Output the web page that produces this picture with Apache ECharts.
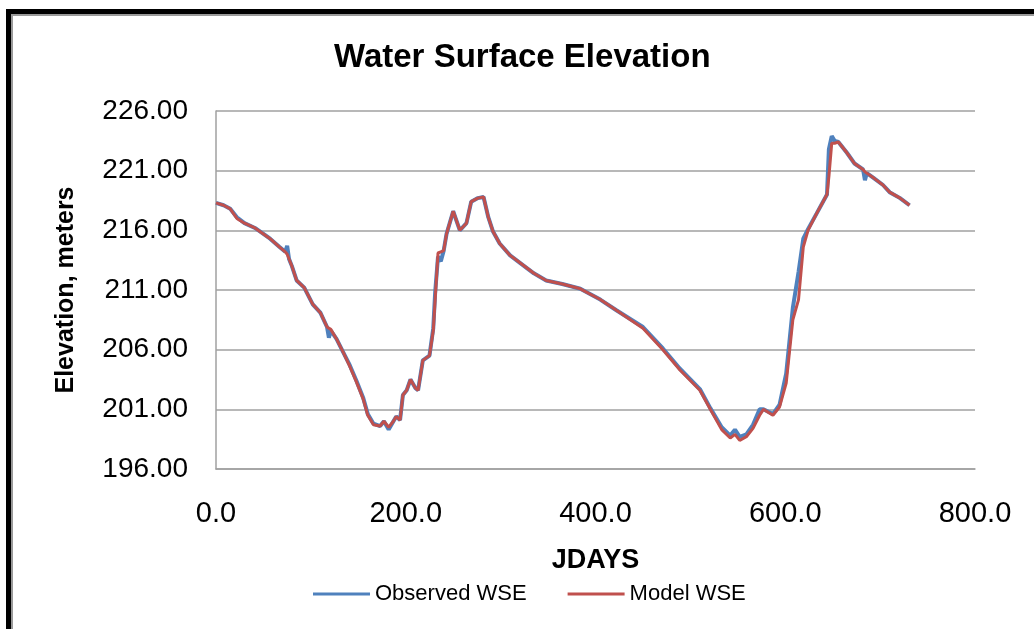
<!DOCTYPE html>
<html>
<head>
<meta charset="utf-8">
<script src="https://cdn.jsdelivr.net/npm/echarts@6/dist/echarts.min.js"></script>
<style>
html,body{margin:0;padding:0;background:#fff;}
#chart{width:1034px;height:629px;}
</style>
</head>
<body>
<div id="chart"></div>
<script>
// ---- data ----
const days = [0, 8, 15, 22, 30, 41, 50, 57, 67, 73, 75, 77, 80, 85, 93, 102, 110, 117, 119, 121, 127, 134, 141, 148, 155, 160, 166, 173, 177, 182, 187, 190, 194, 197, 201, 205, 210, 213, 218, 225, 229, 231, 234, 237, 240, 243, 250, 257, 264, 269, 276, 282, 287, 292, 299, 310, 320, 335, 348, 365, 384, 405, 422, 450, 471, 489, 510, 521, 533, 542, 547, 552, 559, 566, 573, 577, 587, 594, 601, 608, 614, 619, 624, 633, 644, 646, 649, 652, 656, 665, 673, 682, 684, 686, 693, 703, 710, 721, 731];
const modelWSE = [218.3, 218.1, 217.8, 217.0, 216.6, 216.2, 215.7, 215.3, 214.6, 214.2, 214.0, 213.6, 213.0, 211.8, 211.2, 209.8, 209.1, 207.9, 207.8, 207.7, 206.9, 205.8, 204.6, 203.3, 201.9, 200.5, 199.7, 199.6, 200.0, 199.5, 200.0, 200.4, 200.1, 202.2, 202.6, 203.5, 202.8, 202.6, 205.1, 205.5, 207.6, 210.2, 214.1, 214.2, 214.3, 215.7, 217.6, 216.0, 216.6, 218.4, 218.7, 218.8, 217.1, 215.9, 214.9, 213.9, 213.3, 212.4, 211.8, 211.5, 211.1, 210.2, 209.3, 207.8, 206.0, 204.3, 202.6, 201.0, 199.3, 198.6, 198.9, 198.4, 198.7, 199.4, 200.5, 201.0, 200.5, 201.2, 203.2, 208.5, 210.2, 214.6, 216.0, 217.4, 219.0, 220.5, 223.3, 223.3, 223.4, 222.5, 221.6, 221.1, 220.9, 220.8, 220.4, 219.8, 219.2, 218.7, 218.1];
const observedWSE = [218.3, 218.1, 217.8, 217.1, 216.6, 216.2, 215.7, 215.3, 214.6, 214.2, 214.7, 213.6, 213.0, 211.8, 211.2, 209.8, 209.1, 207.9, 207.0, 207.6, 206.9, 205.8, 204.7, 203.4, 202.0, 200.6, 199.8, 199.6, 200.0, 199.3, 200.0, 200.4, 200.1, 202.2, 202.6, 203.5, 202.8, 202.6, 205.1, 205.5, 207.8, 210.8, 213.8, 213.4, 214.3, 215.7, 217.6, 216.0, 216.6, 218.4, 218.7, 218.8, 217.1, 215.9, 214.9, 213.9, 213.3, 212.4, 211.8, 211.5, 211.1, 210.2, 209.3, 207.9, 206.1, 204.4, 202.7, 201.1, 199.5, 198.8, 199.3, 198.7, 198.9, 199.7, 201.0, 201.0, 200.6, 201.4, 204.0, 209.5, 212.5, 215.3, 216.1, 217.4, 219.0, 222.8, 223.9, 223.5, 223.4, 222.5, 221.6, 221.1, 220.2, 220.8, 220.4, 219.8, 219.2, 218.7, 218.1];
const xTicks = [0, 200, 400, 600, 800];
const yTicks = [196, 201, 206, 211, 216, 221, 226];

const obsPairs = days.map((d, i) => [d, observedWSE[i]]);
const modPairs = days.map((d, i) => [d, modelWSE[i]]);

const FONT = '"Liberation Sans", Arial, sans-serif';
const chart = echarts.init(document.getElementById('chart'), null, {renderer: 'canvas'});
chart.setOption({
  animation: false,
  backgroundColor: '#ffffff',
  title: {
    text: 'Water Surface Elevation',
    left: 329, top: 36,
    textStyle: {fontFamily: FONT, fontSize: 33, fontWeight: 'bold', color: '#000'}
  },
  legend: {
    left: 308, top: 578,
    icon: 'rect',
    itemWidth: 57, itemHeight: 3, itemGap: 41,
    textStyle: {fontFamily: FONT, fontSize: 22, color: '#000'},
    data: ['Observed WSE', 'Model WSE']
  },
  grid: {left: 216, right: 59, top: 111, bottom: 160, containLabel: false},
  xAxis: {
    type: 'value', min: xTicks[0], max: xTicks[xTicks.length - 1], interval: 200,
    name: 'JDAYS', nameLocation: 'middle', nameGap: 78,
    nameTextStyle: {fontFamily: FONT, fontSize: 27, fontWeight: 'bold', color: '#000'},
    axisLine: {show: true, lineStyle: {color: '#a0a0a0', width: 1.5}},
    axisTick: {show: false},
    splitLine: {show: false},
    axisLabel: {margin: 30, fontFamily: FONT, fontSize: 29, color: '#000', formatter: v => v.toFixed(1)}
  },
  yAxis: {
    type: 'value', min: yTicks[0], max: yTicks[yTicks.length - 1], interval: 5,
    name: 'Elevation, meters', nameLocation: 'middle', nameGap: 137, nameRotate: 90,
    nameTextStyle: {fontFamily: FONT, fontSize: 25, fontWeight: 'bold', color: '#000'},
    axisLine: {show: true, lineStyle: {color: '#a0a0a0', width: 1.5}},
    axisTick: {show: false},
    splitLine: {show: true, lineStyle: {color: '#a0a0a0', width: 1.5}},
    axisLabel: {margin: 28, fontFamily: FONT, fontSize: 28, color: '#000', formatter: v => v.toFixed(2)}
  },
  series: [
    {name: 'Observed WSE', type: 'line', data: obsPairs, symbol: 'none', showSymbol: false, smooth: false,
     lineStyle: {color: '#4f81bd', width: 4}, itemStyle: {color: '#4f81bd'}},
    {name: 'Model WSE', type: 'line', data: modPairs, symbol: 'none', showSymbol: false, smooth: false,
     lineStyle: {color: '#c0504d', width: 3}, itemStyle: {color: '#c0504d'}}
  ],
  graphic: [
    {type: 'line', shape: {x1: 6, y1: 11.5, x2: 1034, y2: 11.5}, style: {stroke: '#000', lineWidth: 5}},
    {type: 'line', shape: {x1: 8.5, y1: 9, x2: 8.5, y2: 629}, style: {stroke: '#000', lineWidth: 5}},
    {type: 'line', shape: {x1: 11, y1: 15, x2: 1034, y2: 15}, style: {stroke: '#9a9a9a', lineWidth: 2}},
    {type: 'line', shape: {x1: 12, y1: 14, x2: 12, y2: 629}, style: {stroke: '#9a9a9a', lineWidth: 2}}
  ]
});
</script>
</body>
</html>
